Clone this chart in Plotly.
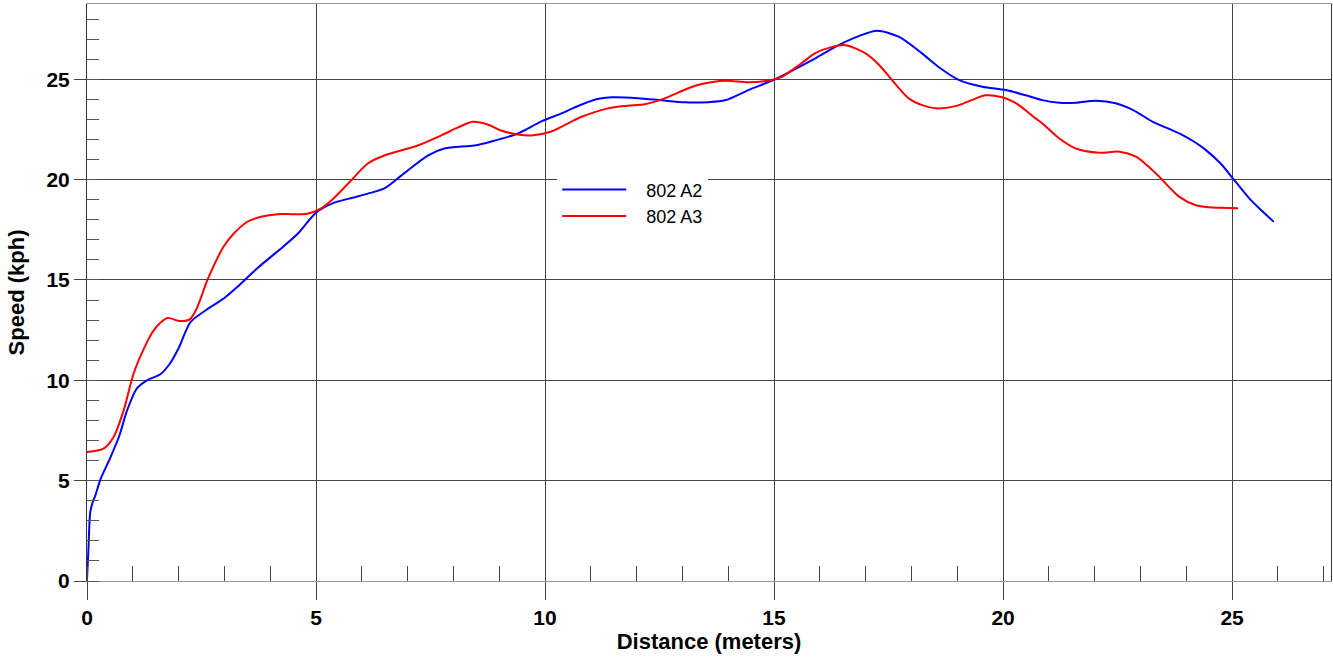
import plotly.graph_objects as go

# 802 A2 (blue)
a2_dist = [0.0, 0.03, 0.07, 0.12, 0.18, 0.3, 0.51, 0.7, 0.875, 1.09, 1.31, 1.6, 1.8, 2.0, 2.26, 2.6,
           3.0, 3.28, 3.7, 4.2, 4.6, 5.0, 5.4, 5.8, 6.13, 6.49, 6.86, 7.44, 7.8, 8.46, 8.83, 9.41,
           9.92, 10.36, 10.65, 11.12, 11.45, 12.03, 12.55, 13.05, 13.57, 13.93, 14.44, 15.02,
           15.5, 15.9, 16.41, 16.85, 17.25, 17.72, 18.23, 18.6, 19.04, 19.55, 20.06, 20.5, 20.86,
           21.23, 21.6, 22.03, 22.46, 22.85, 23.27, 23.6, 23.92, 24.2, 24.43, 24.75, 25.05, 25.4,
           25.65, 25.91]
a2_speed = [0.1, 1.5, 3.4, 3.9, 4.25, 5.1, 6.15, 7.2, 8.5, 9.6, 10.0, 10.3, 10.8, 11.6, 12.9, 13.5,
            14.1, 14.65, 15.55, 16.5, 17.3, 18.35, 18.85, 19.1, 19.3, 19.56, 20.2, 21.2, 21.55, 21.7,
            21.9, 22.3, 22.9, 23.3, 23.6, 24.0, 24.1, 24.06, 23.95, 23.85, 23.86, 23.95, 24.46, 25.0,
            25.55, 26.04, 26.7, 27.15, 27.42, 27.12, 26.29, 25.6, 24.96, 24.63, 24.46, 24.2, 23.96,
            23.83, 23.83, 23.93, 23.8, 23.45, 22.88, 22.55, 22.22, 21.85, 21.47, 20.8, 19.97, 19.0,
            18.45, 17.9]

# 802 A3 (red)
a3_dist = [0.0, 0.36, 0.58, 0.8, 1.02, 1.31, 1.46, 1.62, 1.76, 2.04, 2.25, 2.4, 2.63, 2.98, 3.2,
           3.5, 3.8, 4.16, 4.5, 4.81, 5.1, 5.4, 5.77, 6.13, 6.49, 6.85, 7.22, 7.73, 8.1, 8.42,
           8.75, 9.04, 9.4, 9.7, 10.14, 10.5, 10.8, 11.38, 11.8, 12.18, 12.55, 13.13, 13.42,
           13.93, 14.44, 14.95, 15.17, 15.6, 15.9, 16.25, 16.56, 16.99, 17.3, 17.58, 17.94,
           18.25, 18.53, 18.96, 19.3, 19.62, 19.98, 20.25, 20.49, 20.71, 20.86, 21.23, 21.59,
           22.1, 22.54, 22.9, 23.15, 23.41, 23.85, 24.21, 24.5, 24.73, 25.13]
a3_speed = [6.43, 6.6, 7.18, 8.5, 10.35, 11.9, 12.5, 12.9, 13.1, 12.95, 13.05, 13.6, 15.0, 16.65,
            17.3, 17.9, 18.15, 18.28, 18.28, 18.3, 18.55, 19.1, 19.97, 20.8, 21.2, 21.45, 21.7,
            22.2, 22.6, 22.88, 22.75, 22.45, 22.25, 22.2, 22.4, 22.8, 23.13, 23.55, 23.68, 23.76,
            24.0, 24.55, 24.76, 24.93, 24.85, 24.96, 25.12, 25.8, 26.3, 26.6, 26.7, 26.3, 25.7,
            24.95, 24.05, 23.7, 23.55, 23.66, 23.95, 24.2, 24.1, 23.85, 23.46, 23.05, 22.8, 22.05,
            21.55, 21.34, 21.39, 21.14, 20.7, 20.14, 19.14, 18.72, 18.62, 18.6, 18.57]

series_names = ["802 A2", "802 A3"]

FONT = "Liberation Sans, Arial, sans-serif"
PAD = "\u00a0\u00a0\u00a0"

fig = go.Figure()
fig.add_trace(go.Scatter(x=a2_dist, y=a2_speed, mode="lines", name=PAD + series_names[0],
                         line=dict(color="#0000ff", width=2, shape="spline", smoothing=0.8)))
fig.add_trace(go.Scatter(x=a3_dist, y=a3_speed, mode="lines", name=PAD + series_names[1],
                         line=dict(color="#ff0000", width=2, shape="spline", smoothing=0.8)))

fig.update_layout(
    width=1333, height=657,
    margin=dict(l=87, r=2, t=4, b=76, autoexpand=False),
    paper_bgcolor="white", plot_bgcolor="white",
    font=dict(family=FONT, color="black"),
    showlegend=True,
    legend=dict(x=0.378, y=0.71, xanchor="left", yanchor="top",
                bgcolor="white", borderwidth=0, itemwidth=64,
                font=dict(size=18, family=FONT), tracegroupgap=0),
    xaxis=dict(
        range=[0, 27.16], tick0=0, dtick=5, automargin=False,
        showgrid=True, gridcolor="#444444", gridwidth=1,
        zeroline=False,
        showline=True, linecolor="#999999", linewidth=1, mirror=True,
        ticks="outside", ticklen=18, tickcolor="#444444",
        tickfont=dict(size=21, family=FONT, weight="bold"),
        minor=dict(ticks="inside", dtick=1, ticklen=15, tickcolor="#444444", showgrid=False),
        title=dict(text="Distance (meters)", font=dict(size=22, family=FONT, weight="bold"),
                   standoff=0),
    ),
    yaxis=dict(
        range=[0, 28.75], tick0=0, dtick=5, automargin=False,
        showgrid=True, gridcolor="#444444", gridwidth=1,
        zeroline=False,
        showline=True, linecolor="#333333", linewidth=1, mirror=True,
        ticks="outside", ticklen=12, tickcolor="#444444",
        tickfont=dict(size=21, family=FONT, weight="bold"),
        minor=dict(ticks="inside", dtick=1, ticklen=12, tickcolor="#555555", showgrid=False),
        title=dict(text="Speed (kph)", font=dict(size=22, family=FONT, weight="bold"),
                   standoff=15),
    ),
)

fig.write_html("out.html", config={"displayModeBar": False},
               post_script="document.body.style.margin='0';document.body.style.padding='0';")
